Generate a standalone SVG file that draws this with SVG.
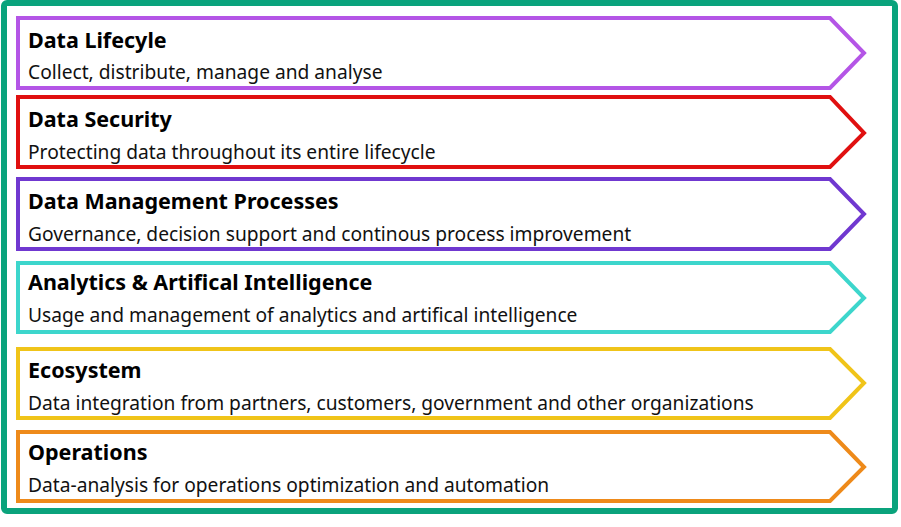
<svg xmlns="http://www.w3.org/2000/svg" width="901" height="527" viewBox="0 0 901 527">
<style>
.b{fill:#fff;stroke-width:4;stroke-linejoin:miter}
.t{font-family:"Noto Sans",sans-serif;font-weight:bold;font-size:21.5px;fill:#000}
.s{font-family:"Noto Sans",sans-serif;font-size:19.2px;fill:#111}
</style>
<rect x="0" y="0" width="901" height="527" fill="#fff"/>
<rect x="4" y="3" width="891" height="508" fill="#fff" stroke="#0aa37c" stroke-width="6" rx="3"/>
<g id="n1"><path class="b" stroke="#b455e6" d="M18,18H830L864,53L830,88H18Z"/><text class="t" x="28" y="48">Data Lifecyle</text><text class="s" x="28" y="79">Collect, distribute, manage and analyse</text></g>
<g id="n2"><path class="b" stroke="#e01010" d="M18,97H830L864,133L830,167H18Z"/><text class="t" x="28" y="127">Data Security</text><text class="s" x="28" y="159">Protecting data throughout its entire lifecycle</text></g>
<g id="n3"><path class="b" stroke="#7038d0" d="M18,179H830L864,214L830,249H18Z"/><text class="t" x="28" y="209">Data Management Processes</text><text class="s" x="28" y="241">Governance, decision support and continous process improvement</text></g>
<g id="n4"><path class="b" stroke="#3dd6cc" d="M18,263H830L864,298L830,332H18Z"/><text class="t" x="28" y="290">Analytics &amp; Artifical Intelligence</text><text class="s" x="28" y="322">Usage and management of analytics and artifical intelligence</text></g>
<g id="n5"><path class="b" stroke="#f0c419" d="M18,349H830L864,383L830,418H18Z"/><text class="t" x="28" y="378">Ecosystem</text><text class="s" x="28" y="410">Data integration from partners, customers, government and other organizations</text></g>
<g id="n6"><path class="b" stroke="#ee8a1a" d="M18,432H830L864,467L830,501H18Z"/><text class="t" x="28" y="460">Operations</text><text class="s" x="28" y="492">Data-analysis for operations optimization and automation</text></g>
<g id="connectors"/>
</svg>
